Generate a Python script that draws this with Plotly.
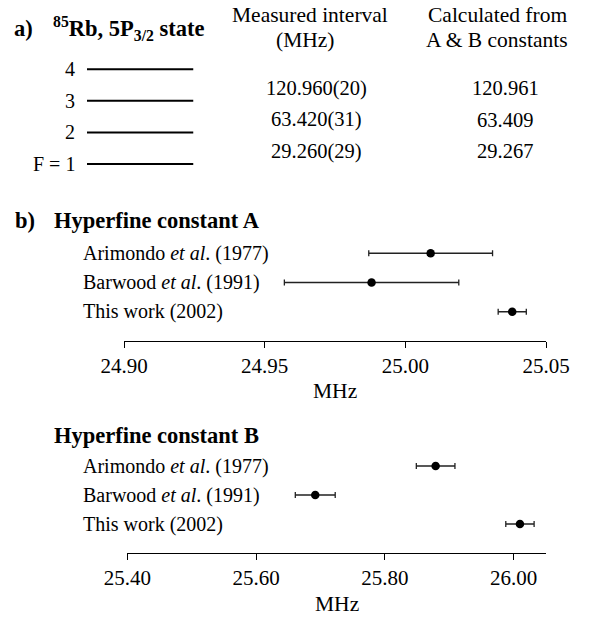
import plotly.graph_objects as go

W, H = 595, 623
OFF = 0  # body margin is removed by post_script below
FONT = "Liberation Serif, Times New Roman, serif"

# ---- data ----
levels = [1, 2, 3, 4]
level_labels = ["F = 1", "2", "3", "4"]
meas_intervals = ["29.260(29)", "63.420(31)", "120.960(20)"]   # intervals 1-2, 2-3, 3-4
calc_intervals = ["29.267", "63.409", "120.961"]

refs = ["Arimondo <i>et al</i>. (1977)", "Barwood <i>et al</i>. (1991)", "This work (2002)"]
A_vals = [25.009, 24.988, 25.038]
A_errs = [0.022, 0.031, 0.005]
B_vals = [25.879, 25.692, 26.010]
B_errs = [0.030, 0.031, 0.022]
A_ticks = [24.90, 24.95, 25.00, 25.05]
B_ticks = [25.40, 25.60, 25.80, 26.00]


def px(x):
    return (x - OFF) / W


def py(y):
    return 1 - (y - OFF) / H


fig = go.Figure()

# energy levels
lx, ly = [], []
for f in levels:
    lx += [0, 1, None]
    ly += [f, f, None]
fig.add_trace(go.Scatter(x=lx, y=ly, mode="lines", line=dict(color="black", width=2),
                         xaxis="x3", yaxis="y3", showlegend=False, hoverinfo="skip"))

rows = list(range(len(refs)))
for vals, errs, xa, ya in [(A_vals, A_errs, "x", "y"), (B_vals, B_errs, "x2", "y2")]:
    fig.add_trace(go.Scatter(
        x=vals, y=rows, mode="markers", xaxis=xa, yaxis=ya,
        marker=dict(color="black", size=8.5),
        error_x=dict(type="data", array=errs, color="#222", thickness=1.3, width=3),
        showlegend=False, cliponaxis=False))

tickfont = dict(family=FONT, size=21, color="black")
common_x = dict(showline=True, linecolor="black", linewidth=1.3, ticks="outside", ticklen=6,
                tickwidth=1.3, tickcolor="black", showgrid=False, zeroline=False,
                tickfont=tickfont, tickformat=".2f", ticklabelstandoff=0, fixedrange=True,
                automargin=False)
common_y = dict(visible=False, range=[len(refs), -1], fixedrange=True, automargin=False)

fig.update_layout(
    template="none",
    width=W, height=H, margin=dict(l=0, r=0, t=0, b=0, pad=0, autoexpand=False),
    paper_bgcolor="white", plot_bgcolor="white",
    font=dict(family=FONT, size=20, color="black"),
    xaxis=dict(domain=[px(124), px(546)], range=[24.90, 25.05], tickvals=A_ticks, anchor="y", **common_x),
    yaxis=dict(domain=[py(341), py(224)], anchor="x", **common_y),
    xaxis2=dict(domain=[px(127.3), px(545.7)], range=[25.40, 26.05], tickvals=B_ticks, anchor="y2", **common_x),
    yaxis2=dict(domain=[py(553), py(437)], anchor="x2", **common_y),
    xaxis3=dict(domain=[px(87), px(193.5)], range=[0, 1], visible=False, anchor="y3", fixedrange=True,
                automargin=False),
    yaxis3=dict(domain=[py(179.8), py(53.5)], range=[0.5, 4.5], visible=False, anchor="x3", fixedrange=True,
                automargin=False),
)

ann = []
bold = dict(family=FONT, size=22.5, color="black")
reg = dict(family=FONT, size=20, color="black")
val = dict(family=FONT, size=20.5, color="black")
hdr = dict(family=FONT, size=21.5, color="black")

# part a headings
ann.append(dict(text="<b>a)</b>", x=px(12), y=py(28), xanchor="left", yanchor="middle", font=bold))
ann.append(dict(text="<b><sup>85</sup>Rb, 5P<sub>3/2</sub> state</b>", x=px(51), y=py(28),
                xanchor="left", yanchor="middle", font=bold))
ann.append(dict(text="Measured interval", x=px(310), y=py(15), xanchor="center", yanchor="middle", font=hdr))
ann.append(dict(text="(MHz)", x=px(306), y=py(40), xanchor="center", yanchor="middle", font=hdr))
ann.append(dict(text="Calculated from", x=px(497), y=py(15), xanchor="center", yanchor="middle", font=hdr))
ann.append(dict(text="A &amp; B constants", x=px(497), y=py(40), xanchor="center", yanchor="middle", font=hdr))

for f, lab in zip(levels, level_labels):
    ann.append(dict(text=lab, xref="paper", yref="y3", x=px(77), y=f, xanchor="right",
                    yanchor="middle", font=reg))
for i, (m, c) in enumerate(zip(meas_intervals, calc_intervals)):
    ann.append(dict(text=m, xref="paper", yref="y3", x=px(316), y=levels[i] + 0.5, yshift=-3,
                    xanchor="center", yanchor="middle", font=val))
    ann.append(dict(text=c, xref="paper", yref="y3", x=px(505), y=levels[i] + 0.5, yshift=-3,
                    xanchor="center", yanchor="middle", font=val))

# part b headings
ann.append(dict(text="<b>b)</b>", x=px(13), y=py(220), xanchor="left", yanchor="middle", font=bold))
ann.append(dict(text="<b>Hyperfine constant A</b>", x=px(52), y=py(220), xanchor="left", yanchor="middle", font=bold))
ann.append(dict(text="<b>Hyperfine constant B</b>", x=px(52), y=py(435), xanchor="left", yanchor="middle", font=bold))

for ya in ["y", "y2"]:
    for i, r in enumerate(refs):
        ann.append(dict(text=r, xref="paper", yref=ya, x=px(80.5), y=i, xanchor="left",
                        yanchor="middle", font=reg))

ann.append(dict(text="MHz", x=px(335), y=py(391), xanchor="center", yanchor="middle", font=hdr))
ann.append(dict(text="MHz", x=px(336.5), y=py(604), xanchor="center", yanchor="middle", font=hdr))

for a in ann:
    a.setdefault("xref", "paper")
    a.setdefault("yref", "paper")
    a["showarrow"] = False
fig.update_layout(annotations=ann)

fig.write_html("out.html", config={"displayModeBar": False},
               post_script="document.body.style.margin='0';")
